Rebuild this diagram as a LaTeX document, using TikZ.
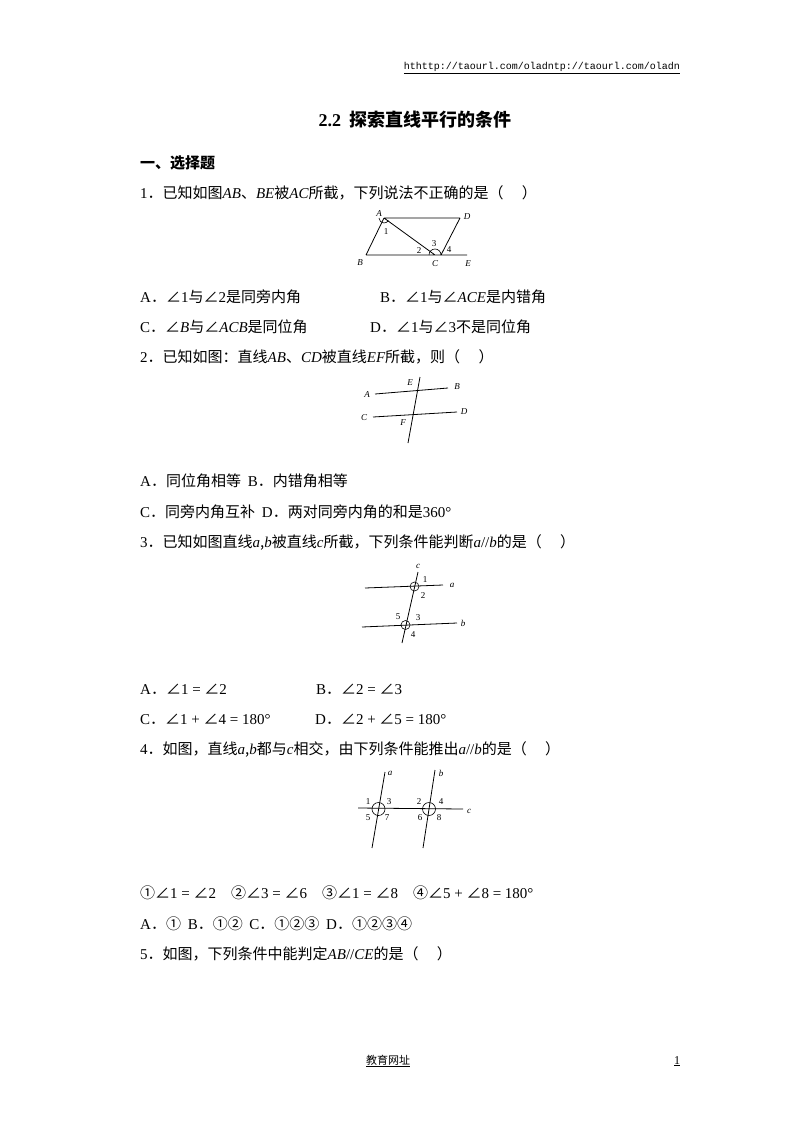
\documentclass[tikz,border=0pt]{standalone}
\usepackage{fontspec}
\setmainfont{Noto Sans CJK SC}
\newfontfamily\tnr{Liberation Serif}
\newfontfamily\mono{Liberation Mono}
\usetikzlibrary{positioning}
\newcommand{\m}[1]{{\tnr\itshape #1}}
\newcommand{\n}[1]{{\tnr #1}}
\tikzset{line/.style={anchor=base west,inner sep=0pt,font=\fontsize{15pt}{18pt}\selectfont}}
\tikzset{lbl/.style={inner sep=0pt,font=\tnr\itshape\fontsize{9pt}{10pt}\selectfont}}
\tikzset{num/.style={inner sep=0pt,font=\tnr\fontsize{9pt}{10pt}\selectfont}}
\tikzset{geo/.style={line width=0.8pt}}
\begin{document}
\begin{tikzpicture}[x=1pt,y=-1pt]
\useasboundingbox[fill=white] (0,0) rectangle (800,1132);

% header and footer
\node[anchor=base east,inner sep=0pt,font=\mono\fontsize{10pt}{12pt}\selectfont] (head) at (680,70) {\underline{hthttp://taourl.com/oladntp://taourl.com/oladn}};
\node[anchor=base,inner sep=0pt,font=\fontsize{11pt}{12pt}\selectfont] (foot) at (388,1064) {\underline{教育网址}};
\node[anchor=base,inner sep=0pt,font=\tnr\fontsize{12pt}{12pt}\selectfont] (page) at (677,1064) {\underline{1}};

% title
\node[anchor=base,inner sep=0pt,font=\bfseries\fontsize{18pt}{20pt}\selectfont] (title) at (415,126) {\n{\textbf{2.2}}\ \ 探索直线平行的条件};
\node[line,font=\bfseries\fontsize{15pt}{18pt}\selectfont] (sec) at (140,168) {一、选择题};

% question 1
\node[line] (q1) at (140,198) {\n{1}．已知如图\m{AB}、\m{BE}被\m{AC}所截，下列说法不正确的是（\quad\ ）};
\node[line] (q1a) at (140,302) {\n{A}．∠\n{1}与∠\n{2}是同旁内角};
\node[line] (q1b) at (380,302) {\n{B}．∠\n{1}与∠\m{ACE}是内错角};
\node[line] (q1c) at (140,332) {\n{C}．∠\m{B}与∠\m{ACB}是同位角};
\node[line] (q1d) at (370,332) {\n{D}．∠\n{1}与∠\n{3}不是同位角};

\coordinate (A) at (384,218);
\coordinate (D) at (460,218);
\coordinate (B) at (366,255);
\coordinate (C) at (435,255);
\coordinate (E) at (467,255);
\coordinate (Dc) at (441,255);
\draw[geo] (A) -- (D) (A) -- (B) (A) -- (C) (B) -- (E) (D) -- (Dc);
\draw[line width=0.6pt] ([shift={(-5,0)}]A) arc[start angle=180,end angle=30,radius=5];
\draw[line width=0.6pt] ([shift={(-6,0)}]C) arc[start angle=180,end angle=360,radius=6];
\node[lbl] (lA) at (379,214) {A};
\node[lbl] (lD) at (467,217) {D};
\node[lbl] (lB) at (360,263) {B};
\node[lbl] (lC) at (435,264) {C};
\node[lbl] (lE) at (468,264) {E};
\node[num] (n1) at (386,232) {1};
\node[num] (n2) at (419,251) {2};
\node[num] (n3) at (434,244) {3};
\node[num] (n4) at (449,250) {4};

% question 2
\node[line] (q2) at (140,362) {\n{2}．已知如图：直线\m{AB}、\m{CD}被直线\m{EF}所截，则（\quad\ ）};
\node[line] (q2a) at (140,486) {\n{A}．同位角相等\ \ \n{B}．内错角相等};
\node[line] (q2c) at (140,517) {\n{C}．同旁内角互补\ \ \n{D}．两对同旁内角的和是\n{360°}};

\draw[geo] (375,394) -- (448,388);
\draw[geo] (373,417) -- (457,412);
\draw[geo] (420,377) -- (408,443);
\node[lbl] (lA2) at (367,395) {A};
\node[lbl] (lB2) at (457,387) {B};
\node[lbl] (lC2) at (364,418) {C};
\node[lbl] (lD2) at (464,412) {D};
\node[lbl] (lE2) at (410,383) {E};
\node[lbl] (lF2) at (403,423) {F};

% question 3
\node[line] (q3) at (140,547) {\n{3}．已知如图直线\m{a},\m{b}被直线\m{c}所截，下列条件能判断\m{a}\n{//}\m{b}的是（\quad\ ）};
\node[line] (q3a) at (140,694) {\n{A}．∠\n{1 = }∠\n{2}};
\node[line] (q3b) at (316,694) {\n{B}．∠\n{2 = }∠\n{3}};
\node[line] (q3c) at (140,724) {\n{C}．∠\n{1 + }∠\n{4 = 180°}};
\node[line] (q3d) at (315,724) {\n{D}．∠\n{2 + }∠\n{5 = 180°}};

\draw[geo] (418,572) -- (402,643);
\draw[geo] (365,588) -- (443,585);
\draw[geo] (362,627) -- (457,623);
\draw[line width=0.6pt] (414.5,586.5) circle[radius=4.5];
\draw[line width=0.6pt] (405.5,625) circle[radius=4.5];
\node[lbl] (lc3) at (418,566) {c};
\node[lbl] (la3) at (452,585) {a};
\node[lbl] (lb3) at (463,623) {b};
\node[num] (m1) at (425,580) {1};
\node[num] (m2) at (423,596) {2};
\node[num] (m5) at (398,617) {5};
\node[num] (m3) at (418,618) {3};
\node[num] (m4) at (413,635) {4};

% question 4
\node[line] (q4) at (140,754) {\n{4}．如图，直线\m{a},\m{b}都与\m{c}相交，由下列条件能推出\m{a}\n{//}\m{b}的是（\quad\ ）};
\node[line] (q4s) at (140,898) {①∠\n{1 = }∠\n{2}\quad ②∠\n{3 = }∠\n{6}\quad ③∠\n{1 = }∠\n{8}\quad ④∠\n{5 + }∠\n{8 = 180°}};
\node[line] (q4a) at (140,929) {\n{A}．①\ \ \n{B}．①②\ \ \n{C}．①②③\ \ \n{D}．①②③④};

\draw[geo] (358,808) -- (463,809);
\draw[geo] (385,772) -- (372,848);
\draw[geo] (435,770) -- (423,848);
\draw[line width=0.6pt] (378.5,809) circle[radius=6.5];
\draw[line width=0.6pt] (429,809) circle[radius=6.5];
\node[lbl] (la4) at (390,773) {a};
\node[lbl] (lb4) at (441,773) {b};
\node[lbl] (lc4) at (469,811) {c};
\node[num] (k1) at (368,802) {1};
\node[num] (k3) at (389,802) {3};
\node[num] (k5) at (368,818) {5};
\node[num] (k7) at (387,818) {7};
\node[num] (k2) at (419,802) {2};
\node[num] (k4) at (441,802) {4};
\node[num] (k6) at (420,818) {6};
\node[num] (k8) at (439,818) {8};

% question 5
\node[line] (q5) at (140,959) {\n{5}．如图，下列条件中能判定\m{AB}\n{//}\m{CE}的是（\quad\ ）};
\end{tikzpicture}
\end{document}
